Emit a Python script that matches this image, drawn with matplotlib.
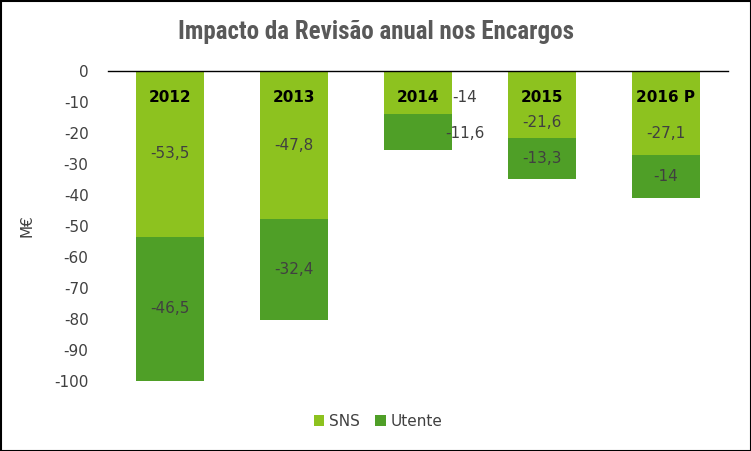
import matplotlib.pyplot as plt
from matplotlib.patches import Rectangle

# dados (M€)
anos = ['2012', '2013', '2014', '2015', '2016 P']
sns_vals = [-53.5, -47.8, -14, -21.6, -27.1]
utente_vals = [-46.5, -32.4, -11.6, -13.3, -14]
sns_txt = ['-53,5', '-47,8', '-14', '-21,6', '-27,1']
utente_txt = ['-46,5', '-32,4', '-11,6', '-13,3', '-14']

cor_sns = '#8dc21f'
cor_utente = '#4f9f27'
cinza = '#404040'

W, H = 751, 451
fig = plt.figure(figsize=(W/100, H/100), dpi=100)
ax = fig.add_axes([108/W, 1-381/H, 620/W, 310/H])

x = list(range(len(anos)))
largura = 0.555
ax.bar(x, sns_vals, largura, color=cor_sns, label='SNS', zorder=2)
ax.bar(x, utente_vals, largura, bottom=sns_vals, color=cor_utente, label='Utente', zorder=2)

ax.set_xlim(-0.5, 4.5)
ax.set_ylim(-100, 0)
ax.set_yticks(range(-100, 1, 10))
ax.set_yticklabels([str(v) for v in range(-100, 1, 10)])
ax.tick_params(axis='y', length=0, pad=14, labelsize=11, labelcolor=cinza)
ax.set_xticks([])
for s in ['left', 'right', 'bottom']:
    ax.spines[s].set_visible(False)
ax.spines['top'].set_color('black')
ax.spines['top'].set_linewidth(1.0)
ax.spines['top'].set_zorder(3)

ax.set_ylabel('M€', fontsize=11, color=cinza, labelpad=14)

# rótulos dos anos e valores
for i in x:
    ax.text(i, -8.5, anos[i], ha='center', va='center', fontsize=11,
            fontweight='bold', color='black', zorder=4)
    s, u = sns_vals[i], utente_vals[i]
    if i == 2:
        # 2014: rótulos deslocados para a direita
        ax.text(i + 0.38, -8.5, sns_txt[i], ha='center', va='center',
                fontsize=11, color=cinza, zorder=4)
        ax.text(i + 0.38, -20, utente_txt[i], ha='center', va='center',
                fontsize=11, color=cinza, zorder=4)
        continue
    ys = s/2 if i < 2 else -16.5
    if i == 4:
        ys = -20
    ax.text(i, ys, sns_txt[i], ha='center', va='center', fontsize=11,
            color=cinza, zorder=4)
    ax.text(i, s + u/2, utente_txt[i], ha='center', va='center', fontsize=11,
            color=cinza, zorder=4)

fig.text(376/W, 1-32/H, 'Impacto da Revisão anual nos Encargos',
         ha='center', va='center', fontsize=18, fontweight='bold',
         color='#595959', family=['Roboto Condensed', 'DejaVu Sans'])

fig.legend(loc='center', bbox_to_anchor=(378/W, 1-421/H), ncol=2, frameon=False,
           fontsize=11, handlelength=0.7, handleheight=0.7, handletextpad=0.3,
           columnspacing=1.0, labelcolor=cinza)

fig.patches.append(Rectangle((0.5/W, 0.5/H), 1-1/W, 1-1/H, transform=fig.transFigure,
                             fill=False, edgecolor='black', linewidth=1.5))

fig.savefig('out.png', dpi=100)
